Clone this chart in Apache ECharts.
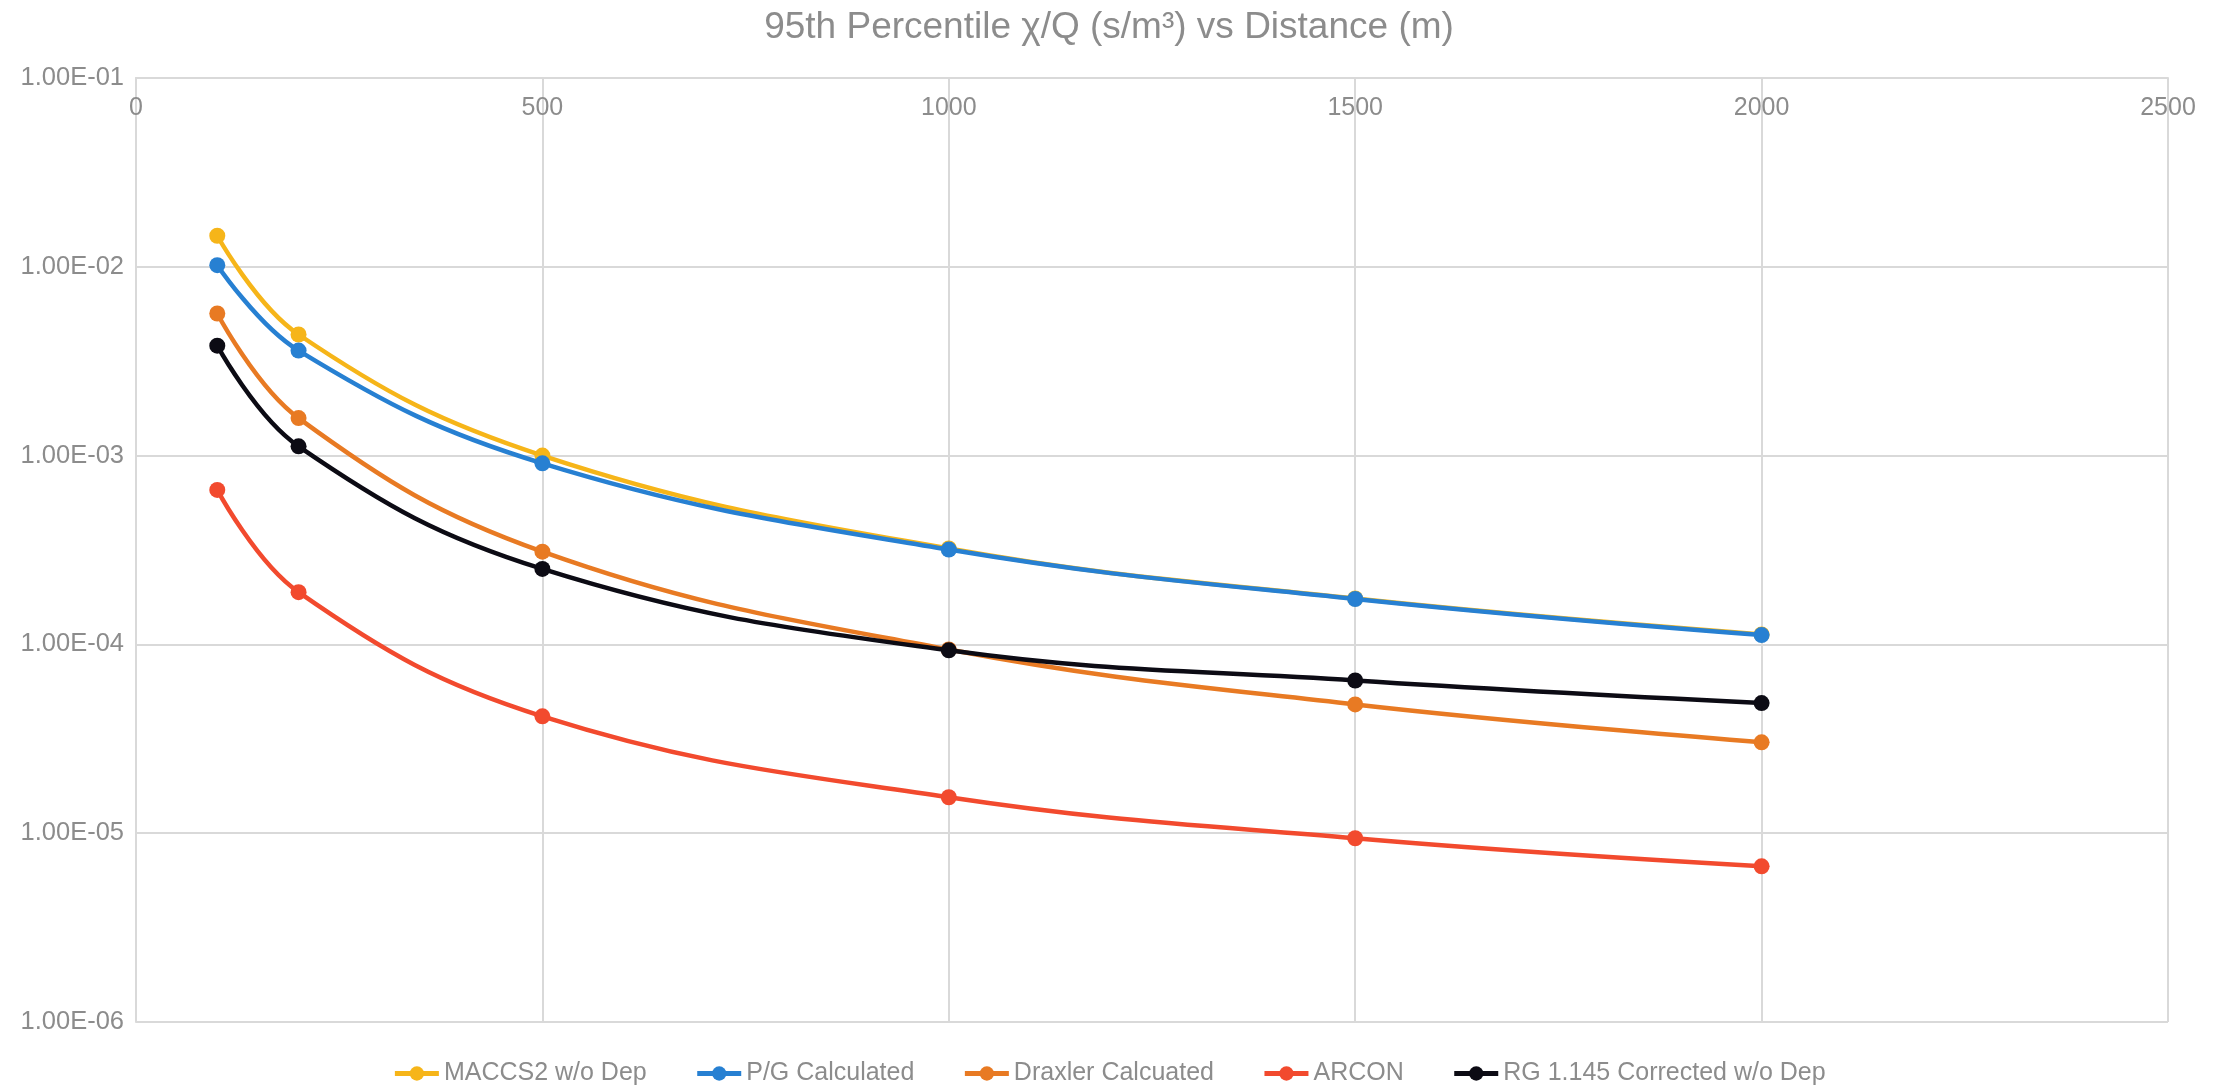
<!DOCTYPE html>
<html>
<head>
<meta charset="utf-8">
<script src="https://cdn.jsdelivr.net/npm/echarts@6/dist/echarts.min.js"></script>
<style>
html,body{margin:0;padding:0;background:#fff;}
#c{width:2218px;height:1085px;}
</style>
</head>
<body>
<div id="c"></div>
<script>
const distances = [100, 200, 500, 1000, 1500, 2000];
const seriesNames = ['MACCS2 w/o Dep', 'P/G Calculated', 'Draxler Calcuated', 'ARCON', 'RG 1.145 Corrected w/o Dep'];
const maccs2 = [1.46e-2, 4.38e-3, 1.0e-3, 3.22e-4, 1.75e-4, 1.13e-4];
const pgCalc = [1.02e-2, 3.6e-3, 9.1e-4, 3.18e-4, 1.74e-4, 1.12e-4];
const draxler = [5.66e-3, 1.58e-3, 3.1e-4, 9.4e-5, 4.81e-5, 3.03e-5];
const arcon = [6.58e-4, 1.89e-4, 4.16e-5, 1.55e-5, 9.4e-6, 6.68e-6];
const rg1145 = [3.82e-3, 1.12e-3, 2.51e-4, 9.3e-5, 6.44e-5, 4.89e-5];
const yTickLabels = ['1.00E-06', '1.00E-05', '1.00E-04', '1.00E-03', '1.00E-02', '1.00E-01'];
const colors = ['#f6b519', '#2780d2', '#e87a23', '#f24a2e', '#0c0b14'];
const values = [maccs2, pgCalc, draxler, arcon, rg1145];

function fmtY(v){
  const idx = Math.round(Math.log10(v)) + 6;
  return yTickLabels[idx] !== undefined ? yTickLabels[idx] : '';
}

const font = 'Liberation Sans, Arial, sans-serif';
const textColor = '#8c8c8c';
const gridColor = '#d9d9d9';
const chart = echarts.init(document.getElementById('c'));
chart.setOption({
  backgroundColor: '#fff',
  animation: false,
  title: {
    text: '95th Percentile χ/Q (s/m³) vs Distance (m)',
    left: 'center', top: 4,
    textStyle: { color: textColor, fontSize: 37, fontWeight: 'normal', fontFamily: font }
  },
  legend: {
    bottom: -6, left: 'center',
    itemWidth: 44, itemHeight: 18, itemGap: 48,
    lineStyle: { width: 5 },
    textStyle: { color: textColor, fontSize: 25, fontFamily: font },
    data: seriesNames
  },
  grid: { left: 136, right: 50, top: 78, bottom: 63, containLabel: false },
  xAxis: {
    type: 'value', min: 0, max: 2500, interval: 500, position: 'top',
    axisLine: { show: true, lineStyle: { color: gridColor, width: 2 } },
    axisTick: { show: false },
    axisLabel: { inside: true, margin: 18, color: textColor, fontSize: 25, fontFamily: font,
      formatter: v => String(v) },
    splitLine: { show: true, lineStyle: { color: gridColor, width: 2 } }
  },
  yAxis: {
    type: 'log', logBase: 10, min: 1e-6, max: 1e-1,
    axisLine: { show: true, lineStyle: { color: gridColor, width: 2 } },
    axisTick: { show: false },
    axisLabel: { margin: 12, color: textColor, fontSize: 25.5, fontFamily: font, formatter: fmtY },
    splitLine: { show: true, lineStyle: { color: gridColor, width: 2 } }
  },
  series: seriesNames.map((n, i) => ({
    name: n, type: 'line', smooth: 0.4,
    data: distances.map((d, j) => [d, values[i][j]]),
    symbol: 'circle', symbolSize: 16,
    lineStyle: { color: colors[i], width: 4.5 },
    itemStyle: { color: colors[i] },
    z: 2 + i
  }))
});
</script>
</body>
</html>
